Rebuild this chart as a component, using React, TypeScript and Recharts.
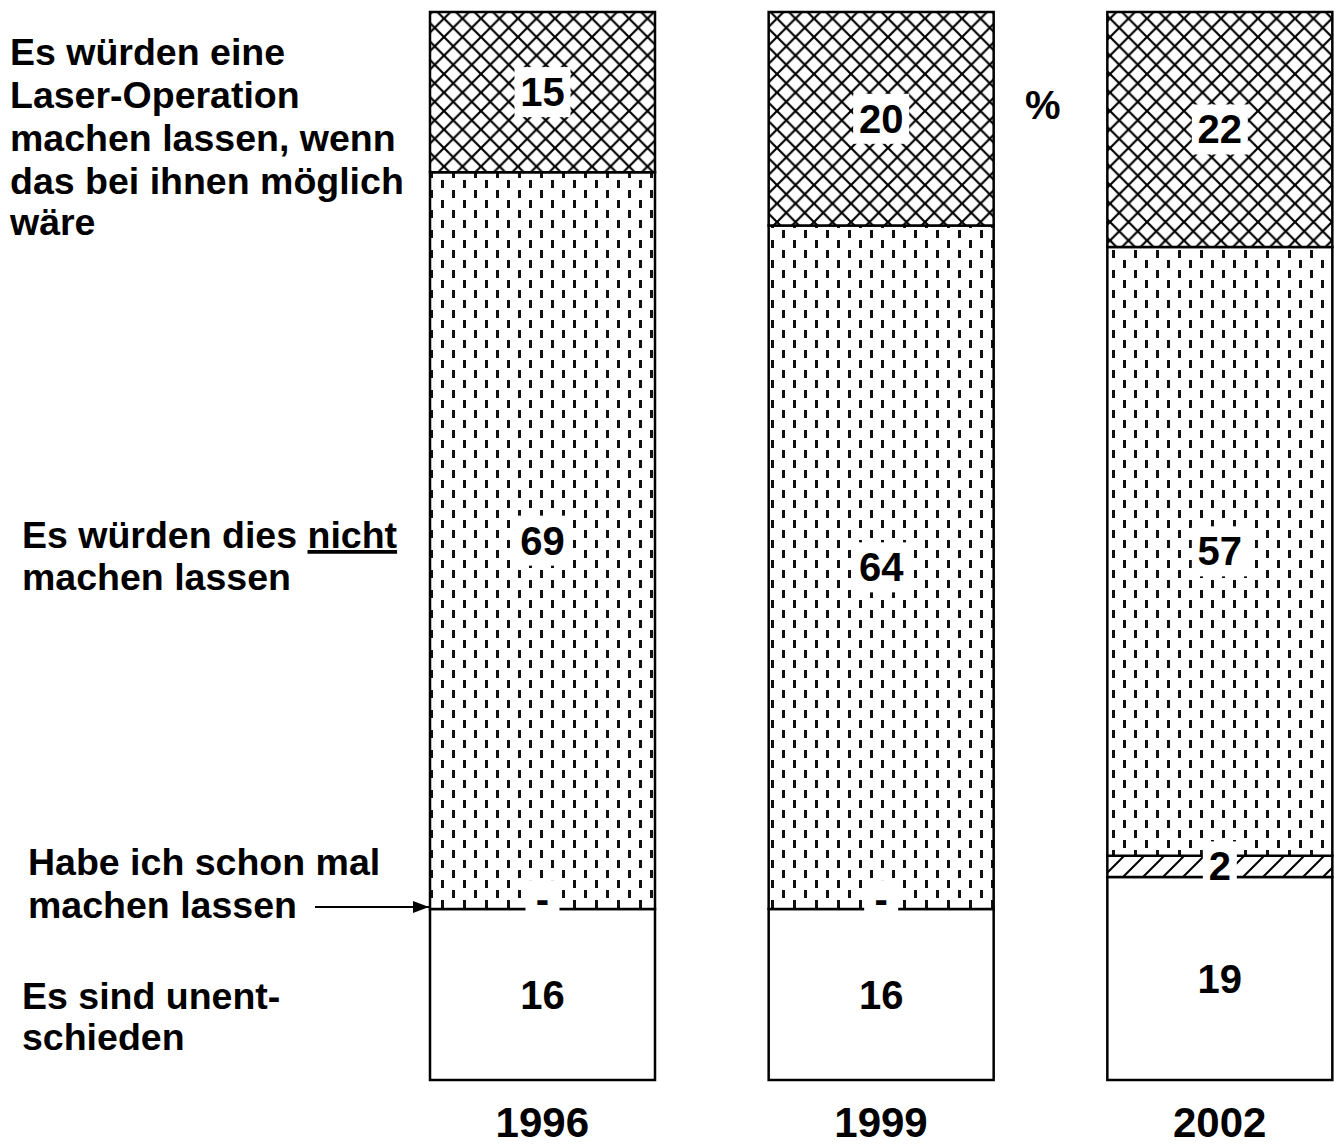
import { BarChart, Bar, XAxis, YAxis, LabelList } from 'recharts';

const years = ['1996', '1999', '2002'];
const undecided = [16, 16, 19];
const alreadyDone = [0, 0, 2];
const wouldNot = [69, 64, 57];
const would = [15, 20, 22];

const data = years.map((year, i) => ({
  year,
  undecided: undecided[i],
  alreadyDone: alreadyDone[i],
  wouldNot: wouldNot[i],
  would: would[i],
}));

const FONT = '"Liberation Sans", Arial, Helvetica, sans-serif';

// number in a white box, centred in the segment
const boxedText = (cx: number, cy: number, text: string, boxH = 50) => {
  const boxW = text.length * 22 + 12;
  return (
    <g>
      <rect x={cx - boxW / 2} y={cy - boxH / 2} width={boxW} height={boxH} fill="#fff" />
      <text x={cx} y={cy + 14} textAnchor="middle" fontFamily={FONT} fontWeight="bold" fontSize={40} fill="#000">
        {text}
      </text>
    </g>
  );
};

const ValueLabel = (props: any) => {
  const { x, y, width, height, value } = props;
  if (!value) return null;
  return boxedText(x + width / 2, y + height / 2, String(value));
};

// the middle segment also carries the "-" for a zero "already done" share
const WouldNotLabel = (props: any) => {
  const { x, y, width, height, value, index } = props;
  return (
    <g>
      {boxedText(x + width / 2, y + height / 2, String(value))}
      {alreadyDone[index] === 0 ? boxedText(x + width / 2, y + height - 10, '-', 38) : null}
    </g>
  );
};

const YearTick = (props: any) => {
  const { x, y, payload } = props;
  return (
    <text x={x} y={y + 49} textAnchor="middle" fontFamily={FONT} fontWeight="bold" fontSize={42} fill="#000">
      {payload.value}
    </text>
  );
};

const labelStyle = { fontFamily: FONT, fontWeight: 'bold' as const, fontSize: 37.5, fill: '#000' };

const App = () => {
  return (
    <div style={{ position: 'absolute', left: 0, top: 0, width: 1334, height: 1146, overflow: 'hidden', background: '#fff' }}>
      <BarChart
        width={1400}
        height={1146}
        data={data}
        margin={{ top: 12, right: 11, left: 373, bottom: 0 }}
      >
        <defs>
          <pattern id="crossHatch" patternUnits="userSpaceOnUse" width={18.5} height={18.5}>
            <rect width={18.5} height={18.5} fill="#fff" />
            <path d="M-1,-1 L19.5,19.5 M19.5,-1 L-1,19.5" stroke="#000" strokeWidth={2.2} />
          </pattern>
          <pattern id="dashes" patternUnits="userSpaceOnUse" width={22} height={20}>
            <rect width={22} height={20} fill="#fff" />
            <rect x={1} y={0} width={3} height={8} fill="#111" />
            <rect x={12} y={10} width={3} height={8} fill="#111" />
          </pattern>
          <pattern id="diagHatch" patternUnits="userSpaceOnUse" width={20} height={20}>
            <rect width={20} height={20} fill="#fff" />
            <path d="M0,20 L20,0 M-5,5 L5,-5 M15,25 L25,15" stroke="#000" strokeWidth={2} />
          </pattern>
        </defs>
        <XAxis dataKey="year" height={66} axisLine={false} tickLine={false} tick={<YearTick />} interval={0} />
        <YAxis hide domain={[0, 100]} />
        <Bar dataKey="undecided" stackId="a" barSize={225} fill="#fff" stroke="#000" strokeWidth={2.5} isAnimationActive={false}>
          <LabelList dataKey="undecided" content={<ValueLabel />} />
        </Bar>
        <Bar dataKey="alreadyDone" stackId="a" barSize={225} fill="url(#diagHatch)" stroke="#000" strokeWidth={2.5} isAnimationActive={false}>
          <LabelList dataKey="alreadyDone" content={<ValueLabel />} />
        </Bar>
        <Bar dataKey="wouldNot" stackId="a" barSize={225} fill="url(#dashes)" stroke="#000" strokeWidth={2.5} isAnimationActive={false}>
          <LabelList dataKey="wouldNot" content={<WouldNotLabel />} />
        </Bar>
        <Bar dataKey="would" stackId="a" barSize={225} fill="url(#crossHatch)" stroke="#000" strokeWidth={2.5} isAnimationActive={false}>
          <LabelList dataKey="would" content={<ValueLabel />} />
        </Bar>
      </BarChart>
      <svg width={1334} height={1146} style={{ position: 'absolute', left: 0, top: 0, pointerEvents: 'none' }}>
        <defs>
          <marker id="arrowHead" markerWidth={16} markerHeight={12} refX={16} refY={6} orient="auto" markerUnits="userSpaceOnUse">
            <path d="M0,0 L16,6 L0,12 Z" fill="#000" />
          </marker>
        </defs>
        <text {...labelStyle}>
          <tspan x={10} y={65}>Es würden eine</tspan>
          <tspan x={10} y={108}>Laser-Operation</tspan>
          <tspan x={10} y={151}>machen lassen, wenn</tspan>
          <tspan x={10} y={194}>das bei ihnen möglich</tspan>
          <tspan x={10} y={235}>wäre</tspan>
        </text>
        <text {...labelStyle}>
          <tspan x={22} y={548}>Es würden dies </tspan>
          <tspan textDecoration="underline">nicht</tspan>
          <tspan x={22} y={590}>machen lassen</tspan>
        </text>
        <text {...labelStyle}>
          <tspan x={28} y={875}>Habe ich schon mal</tspan>
          <tspan x={28} y={918}>machen lassen</tspan>
        </text>
        <line x1={315} y1={907} x2={429} y2={907} stroke="#000" strokeWidth={2} markerEnd="url(#arrowHead)" />
        <text {...labelStyle}>
          <tspan x={22} y={1009}>Es sind unent-</tspan>
          <tspan x={22} y={1050}>schieden</tspan>
        </text>
        <text x={1025} y={119} {...labelStyle} fontSize={40}>%</text>
      </svg>
    </div>
  );
};

export default App;
